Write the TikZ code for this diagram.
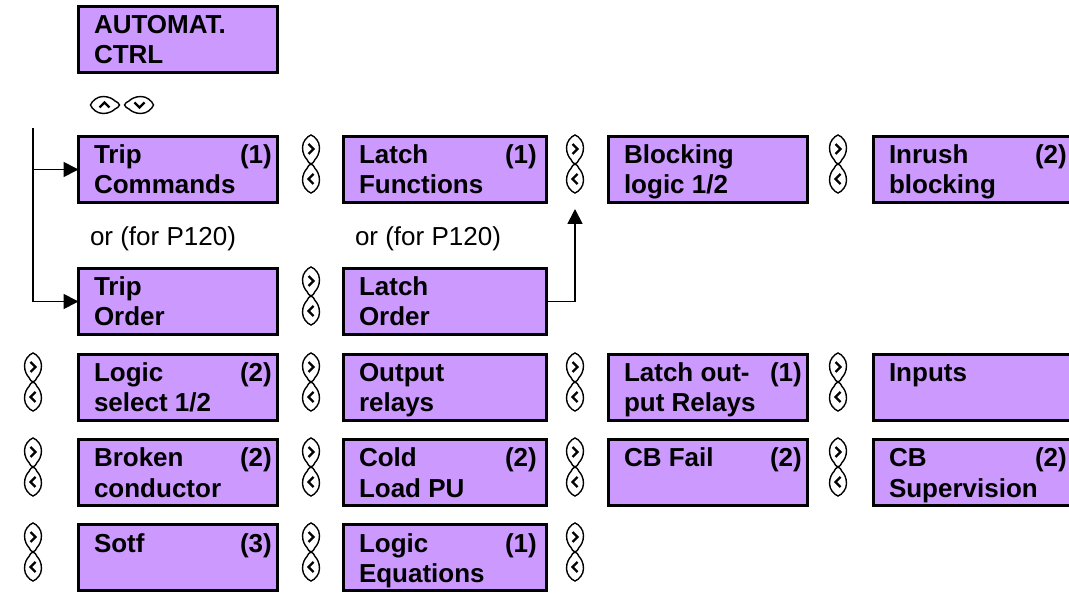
\documentclass[tikz,border=0pt]{standalone}
\usepackage{fontspec}
\setmainfont{Liberation Sans}
\usetikzlibrary{arrows.meta}
\definecolor{boxfill}{HTML}{CC99FF}
\tikzset{
  mbox/.style={draw=black, line width=3pt, fill=boxfill, rectangle, inner sep=0pt, outer sep=0pt, minimum height=66pt},
  mtext/.style={inner sep=0pt, outer sep=0pt, font=\fontsize{26}{30}\selectfont\bfseries},
  ortext/.style={inner sep=0pt, outer sep=0pt, font=\fontsize{26}{30}\selectfont},
  conn/.style={draw=black, line width=1.8pt, -{Triangle[length=15pt,width=15pt]}},
  navkey/.pic={
    \draw[line width=1.4pt, fill=white] (0,-14.5) .. controls (4,-13) and (8.5,-8) .. (8.5,-2)
      .. controls (8.5,4) and (6,8) .. (4,10) .. controls (3,12) and (2,14) .. (0,14.5)
      .. controls (-2,14) and (-3,12) .. (-4,10) .. controls (-6,8) and (-8.5,4) .. (-8.5,-2)
      .. controls (-8.5,-8) and (-4,-13) .. cycle;
    \draw[line width=2.4pt] (-2.5,-5.5) -- (2.5,-0.5) -- (-2.5,4.5);
  }
}
% name, outer x, outer y, outer width, line1, tag, line2
\newcommand\menubox[7]{%
  \node[mbox, minimum width=#4pt-3pt, anchor=north west] (#1) at (#2+1.5,#3+1.5) {};
  \node[mtext, anchor=base west] (#1-a) at ([shift={(15.5,27.5)}]#1.north west) {#5};
  \node[mtext, anchor=base west] (#1-t) at ([shift={(161.5,27.5)}]#1.north west) {#6};
  \node[mtext, anchor=base west] (#1-b) at ([shift={(15.5,57.5)}]#1.north west) {#7};
}
\newcommand\navpair[2]{%
  \pic at (#1,#2+14.5) {navkey};
  \pic[rotate=180] at (#1,#2+43.5) {navkey};
}
\begin{document}
\begin{tikzpicture}[x=1pt,y=-1pt]
\useasboundingbox (0,0) rectangle (1069,593);
\clip (0,0) rectangle (1069,593);

\menubox{auto}{77}{5}{202}{AUTOMAT.}{}{CTRL}
\pic[rotate=90] at (105,105) {navkey};
\pic[rotate=-90] at (139,105) {navkey};

% row 1
\menubox{tripcmd}{77}{135}{202}{Trip}{(1)}{Commands}
\menubox{latchfn}{342}{135}{206}{Latch}{(1)}{Functions}
\menubox{blocking}{607}{135}{202}{Blocking}{}{logic 1/2}
\menubox{inrush}{872}{135}{202}{Inrush}{(2)}{blocking}
\navpair{311}{135}
\navpair{575}{135}
\navpair{838}{135}

\node[ortext, anchor=base west] (or1) at (90,246) {or (for P120)};
\node[ortext, anchor=base west] (or2) at (355,246) {or (for P120)};

% row 2
\menubox{triporder}{77}{267}{202}{Trip}{}{Order}
\menubox{latchorder}{342}{267}{206}{Latch}{}{Order}
\navpair{311}{267}

% row 3
\menubox{logicsel}{77}{353}{202}{Logic}{(2)}{select 1/2}
\menubox{outrel}{342}{353}{206}{Output}{}{relays}
\menubox{latchout}{607}{353}{202}{Latch out-}{(1)}{put Relays}
\menubox{inputs}{872}{353}{202}{Inputs}{}{}
\navpair{33}{353}
\navpair{311}{353}
\navpair{575}{353}
\navpair{838}{353}

% row 4
\menubox{broken}{77}{438}{202}{Broken}{(2)}{conductor}
\menubox{coldload}{342}{438}{206}{Cold}{(2)}{Load PU}
\menubox{cbfail}{607}{438}{202}{CB Fail}{(2)}{}
\menubox{cbsup}{872}{438}{202}{CB}{(2)}{Supervision}
\navpair{33}{438}
\navpair{311}{438}
\navpair{575}{438}
\navpair{838}{438}

% row 5
\menubox{sotf}{77}{523}{202}{Sotf}{(3)}{}
\menubox{logiceq}{342}{523}{206}{Logic}{(1)}{Equations}
\navpair{33}{523}
\navpair{311}{523}
\navpair{575}{523}

% connectors
\coordinate (feed) at (33,128);
\draw[conn] (feed) |- (triporder.west);
\draw[conn] (feed |- tripcmd.west) -- (tripcmd.west);
\coordinate (uptip) at (575,209);
\draw[conn] (latchorder.east) -| (uptip);
\end{tikzpicture}
\end{document}
